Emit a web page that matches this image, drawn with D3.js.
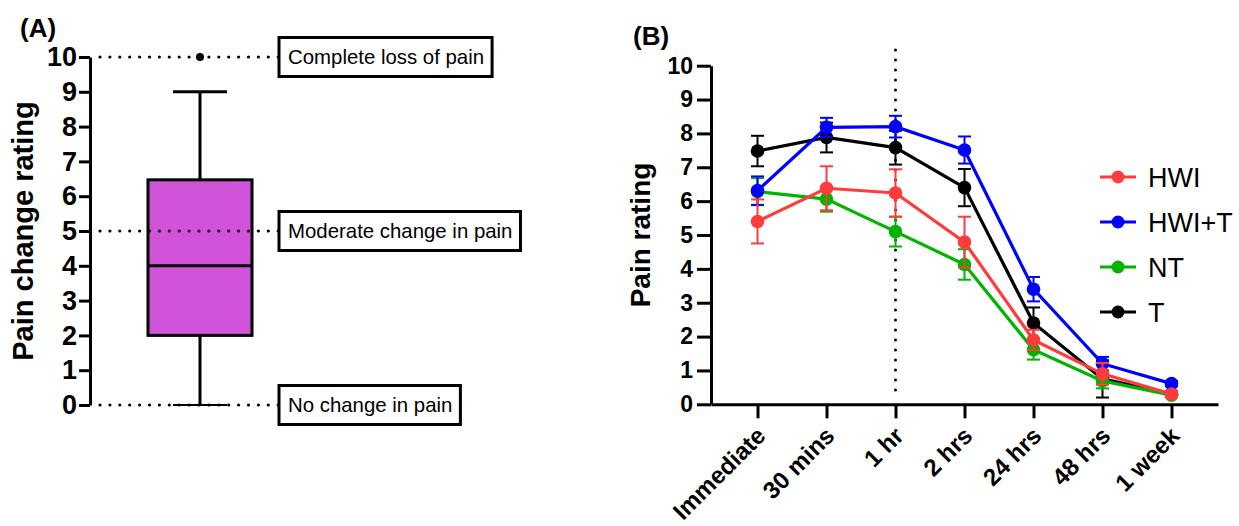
<!DOCTYPE html>
<html>
<head>
<meta charset="utf-8">
<script src="https://cdn.jsdelivr.net/npm/d3@7"></script>
<style>
  html, body { margin: 0; padding: 0; background: #fff; }
  svg { display: block; font-family: Arial, "Liberation Sans", Helvetica, sans-serif; }
</style>
</head>
<body>
<svg id="chart" width="1239" height="526"></svg>
<script>
// ---------- Data ----------
// Panel A: box plot of pain change rating
const boxStats = { min: 0, q1: 2, median: 4, q3: 6.47, max: 9 };
const boxOutliers = [10];
const refValues = [10, 5, 0];
const refLabels = ["Complete loss of pain", "Moderate change in pain", "No change in pain"];
const ticksA = [0,1,2,3,4,5,6,7,8,9,10];

// Panel B: pain rating over time
const categories = ["Immediate", "30 mins", "1 hr", "2 hrs", "24 hrs", "48 hrs", "1 week"];
const seriesNames = ["HWI", "HWI+T", "NT", "T"];
const seriesColors = ["#ff3b3b", "#0000ff", "#00b400", "#000000"];
const hwiMean   = [5.40, 6.38, 6.24, 4.79, 1.90, 0.90, 0.30];
const hwiErr    = [0.65, 0.65, 0.70, 0.75, 0.30, 0.32, 0.08];
const hwitMean  = [6.31, 8.18, 8.20, 7.51, 3.40, 1.20, 0.61];
const hwitErr   = [0.42, 0.28, 0.32, 0.40, 0.36, 0.20, 0.08];
const ntMean    = [6.28, 6.06, 5.10, 4.13, 1.61, 0.69, 0.27];
const ntErr     = [0.40, 0.37, 0.44, 0.45, 0.29, 0.22, 0.05];
const tMean     = [7.48, 7.88, 7.58, 6.40, 2.40, 0.75, 0.30];
const tErr      = [0.45, 0.44, 0.50, 0.55, 0.46, 0.55, 0.08];
const ticksB = [0,1,2,3,4,5,6,7,8,9,10];
const markerCategory = "1 hr";

const series = [
  { name: seriesNames[0], color: seriesColors[0], mean: hwiMean,  err: hwiErr },
  { name: seriesNames[1], color: seriesColors[1], mean: hwitMean, err: hwitErr },
  { name: seriesNames[2], color: seriesColors[2], mean: ntMean,   err: ntErr },
  { name: seriesNames[3], color: seriesColors[3], mean: tMean,    err: tErr }
];
// drawing order (bottom -> top)
const drawOrder = ["T", "NT", "HWI+T", "HWI"];

const svg = d3.select("#chart");
const FONT = "Arial, 'Liberation Sans', sans-serif";

// ================= Panel A =================
const gA = svg.append("g");
const yA = d3.scaleLinear().domain([0, 10]).range([405, 57]);
const xAcenter = 200, boxHalf = 52, capHalf = 27;

gA.append("text").attr("x", 20).attr("y", 37).attr("font-size", 26).attr("font-weight", "bold").text("(A)");

const axA = gA.append("g").attr("transform", "translate(90,0)")
  .call(d3.axisLeft(yA).tickValues(ticksA).tickSize(11).tickSizeOuter(0).tickPadding(2));
axA.select(".domain").attr("stroke-width", 3);
axA.selectAll(".tick line").attr("stroke-width", 3);
axA.selectAll(".tick text").attr("font-size", 27).attr("font-weight", "bold").attr("fill", "#000")
  .attr("font-family", FONT);

gA.append("text")
  .attr("transform", `translate(33,${(yA(0) + yA(10)) / 2}) rotate(-90)`)
  .attr("text-anchor", "middle").attr("font-size", 29).attr("font-weight", "bold")
  .text("Pain change rating");

// whiskers
gA.append("line").attr("x1", xAcenter).attr("x2", xAcenter).attr("y1", yA(boxStats.q3)).attr("y2", yA(boxStats.max))
  .attr("stroke", "#000").attr("stroke-width", 3);
gA.append("line").attr("x1", xAcenter).attr("x2", xAcenter).attr("y1", yA(boxStats.q1)).attr("y2", yA(boxStats.min))
  .attr("stroke", "#000").attr("stroke-width", 3);
gA.append("line").attr("x1", xAcenter - capHalf).attr("x2", xAcenter + capHalf).attr("y1", yA(boxStats.max)).attr("y2", yA(boxStats.max))
  .attr("stroke", "#000").attr("stroke-width", 3);
gA.append("line").attr("x1", xAcenter - capHalf).attr("x2", xAcenter + capHalf).attr("y1", yA(boxStats.min)).attr("y2", yA(boxStats.min))
  .attr("stroke", "#000").attr("stroke-width", 2);

// box
gA.append("rect").attr("x", xAcenter - boxHalf).attr("y", yA(boxStats.q3))
  .attr("width", boxHalf * 2).attr("height", yA(boxStats.q1) - yA(boxStats.q3))
  .attr("fill", "#d053d9").attr("stroke", "#000").attr("stroke-width", 3);
gA.append("line").attr("x1", xAcenter - boxHalf).attr("x2", xAcenter + boxHalf).attr("y1", yA(boxStats.median)).attr("y2", yA(boxStats.median))
  .attr("stroke", "#000").attr("stroke-width", 3);

// reference dotted lines + labels
refValues.forEach((v, i) => {
  gA.append("line").attr("x1", 100).attr("x2", 279).attr("y1", yA(v)).attr("y2", yA(v))
    .attr("stroke", "#000").attr("stroke-width", 3.2).attr("stroke-linecap", "round")
    .attr("stroke-dasharray", "0,9.9");
  const t = gA.append("text").attr("x", 288).attr("y", yA(v)).attr("dy", "0.36em")
    .attr("font-size", 20.4).text(refLabels[i]);
  const w = t.node().getComputedTextLength();
  gA.insert("rect", "text").attr("x", 279).attr("y", yA(v) - 19.5).attr("width", w + 17).attr("height", 39)
    .attr("fill", "#fff").attr("stroke", "#000").attr("stroke-width", 3);
});

gA.selectAll("circle.out").data(boxOutliers).enter().append("circle")
  .attr("cx", xAcenter).attr("cy", d => yA(d)).attr("r", 4).attr("fill", "#000");

// ================= Panel B =================
const gB = svg.append("g");
const x = d3.scalePoint().domain(categories).range([711, 1218]).padding(0.674);
const y = d3.scaleLinear().domain([0, 10]).range([404.3, 65.7]);

gB.append("text").attr("x", 633).attr("y", 45).attr("font-size", 26).attr("font-weight", "bold").text("(B)");

const axY = gB.append("g").attr("transform", "translate(711,0)")
  .call(d3.axisLeft(y).tickValues(ticksB).tickSize(14).tickSizeOuter(0).tickPadding(4));
axY.select(".domain").attr("stroke-width", 3);
axY.selectAll(".tick line").attr("stroke-width", 3);
axY.selectAll(".tick text").attr("font-size", 23).attr("font-weight", "bold").attr("fill", "#000")
  .attr("font-family", FONT);

const axX = gB.append("g").attr("transform", `translate(0,${y(0)})`)
  .call(d3.axisBottom(x).tickSize(14).tickSizeOuter(0));
axX.select(".domain").attr("stroke-width", 3);
axX.selectAll(".tick line").attr("stroke-width", 3);
axX.selectAll(".tick text")
  .attr("font-size", 24).attr("font-weight", "bold").attr("fill", "#000")
  .attr("font-family", FONT)
  .attr("text-anchor", "end").attr("dy", 0).attr("y", 0)
  .attr("transform", "translate(9,33) rotate(-45)");

gB.append("text")
  .attr("transform", `translate(650,${(y(0) + y(10)) / 2}) rotate(-90)`)
  .attr("text-anchor", "middle").attr("font-size", 28).attr("font-weight", "bold")
  .text("Pain rating");

// vertical dotted marker line
gB.append("line").attr("x1", x(markerCategory)).attr("x2", x(markerCategory))
  .attr("y1", 50).attr("y2", 400)
  .attr("stroke", "#000").attr("stroke-width", 3).attr("stroke-linecap", "round")
  .attr("stroke-dasharray", "0,10");

const line = d3.line().x((d, i) => x(categories[i])).y(d => y(d));

drawOrder.forEach(name => {
  const s = series.find(d => d.name === name);
  const g = gB.append("g");
  s.mean.forEach((m, i) => {
    const cx = x(categories[i]);
    const lo = m - s.err[i], hi = m + s.err[i];
    g.append("line").attr("x1", cx).attr("x2", cx).attr("y1", y(lo)).attr("y2", y(hi))
      .attr("stroke", s.color).attr("stroke-width", 2);
    [lo, hi].forEach(v => g.append("line").attr("x1", cx - 6.5).attr("x2", cx + 6.5).attr("y1", y(v)).attr("y2", y(v))
      .attr("stroke", s.color).attr("stroke-width", 2));
  });
  g.append("path").attr("d", line(s.mean)).attr("fill", "none").attr("stroke", s.color).attr("stroke-width", 3.2);
  g.selectAll("circle").data(s.mean).enter().append("circle")
    .attr("cx", (d, i) => x(categories[i])).attr("cy", d => y(d)).attr("r", 6.8).attr("fill", s.color);
});

// legend
const legY0 = 177, legStep = 45;
series.forEach((s, i) => {
  const ly = legY0 + i * legStep;
  gB.append("line").attr("x1", 1100).attr("x2", 1136).attr("y1", ly).attr("y2", ly).attr("stroke", s.color).attr("stroke-width", 3.2);
  gB.append("circle").attr("cx", 1118).attr("cy", ly).attr("r", 6.5).attr("fill", s.color);
  gB.append("text").attr("x", 1148).attr("y", ly).attr("dy", "0.36em").attr("font-size", 27).text(s.name);
});
</script>
</body>
</html>
